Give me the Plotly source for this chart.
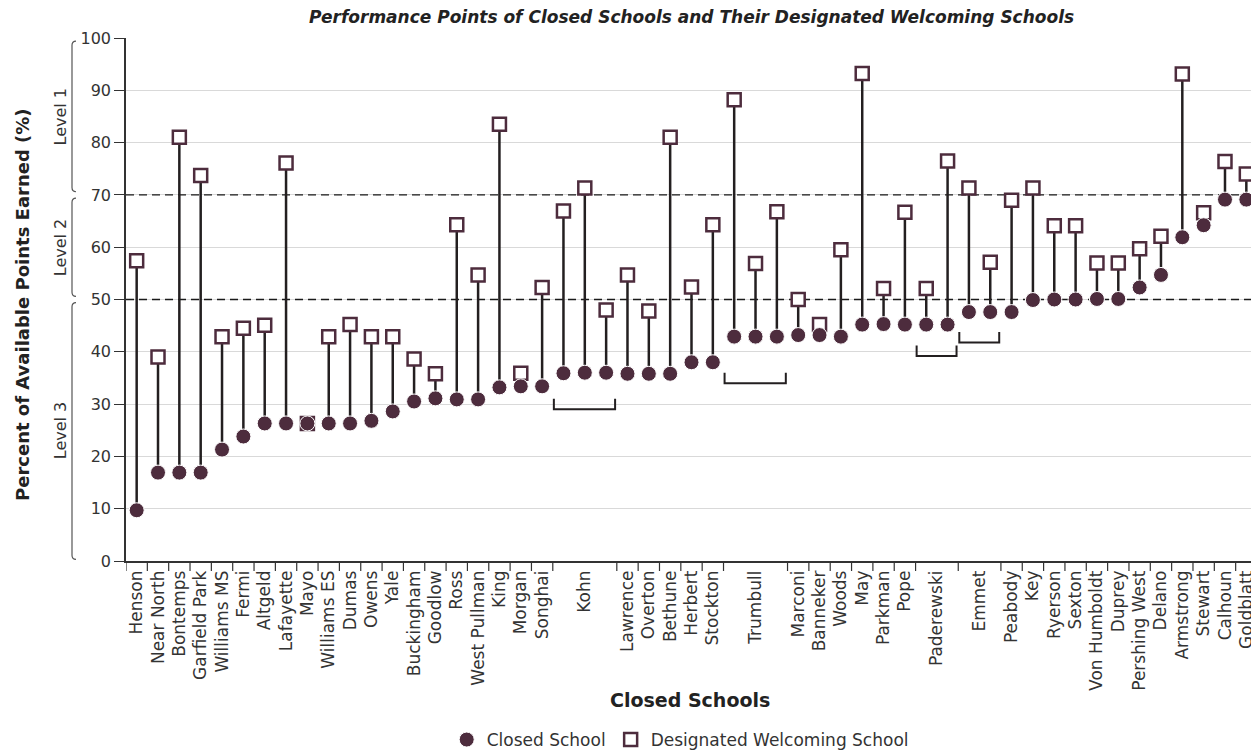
import plotly.graph_objects as go

# ---------------- data ----------------
schools = ["Henson", "Near North", "Bontemps", "Garfield Park", "Williams MS", "Fermi",
           "Altgeld", "Lafayette", "Mayo", "Williams ES", "Dumas", "Owens", "Yale",
           "Buckingham", "Goodlow", "Ross", "West Pullman", "King", "Morgan", "Songhai",
           "Kohn", "Kohn", "Kohn", "Lawrence", "Overton", "Bethune", "Herbert", "Stockton",
           "Trumbull", "Trumbull", "Trumbull", "Marconi", "Banneker", "Woods", "May",
           "Parkman", "Pope", "Paderewski", "Paderewski", "Emmet", "Emmet", "Peabody",
           "Key", "Ryerson", "Sexton", "Von Humboldt", "Duprey", "Pershing West", "Delano",
           "Armstrong", "Stewart", "Calhoun", "Goldblatt"]

closed_pts = [9.7, 16.9, 16.9, 16.9, 21.3, 23.8, 26.3, 26.3, 26.3, 26.3, 26.3, 26.8, 28.6,
              30.5, 31.1, 30.9, 30.9, 33.2, 33.4, 33.4, 35.9, 36.0, 36.0, 35.8, 35.8, 35.8,
              38.0, 38.0, 42.9, 42.9, 42.9, 43.2, 43.2, 42.9, 45.2, 45.3, 45.2, 45.2, 45.2,
              47.6, 47.6, 47.6, 49.9, 50.0, 50.0, 50.1, 50.1, 52.3, 54.7, 61.9, 64.2, 69.1, 69.1]

welcoming_pts = [57.4, 39.0, 81.0, 73.7, 42.9, 44.5, 45.1, 76.1, 26.3, 42.9, 45.2, 42.9, 42.9,
                 38.6, 35.8, 64.3, 54.7, 83.5, 35.9, 52.3, 66.9, 71.3, 48.0, 54.7, 47.8, 81.0,
                 52.4, 64.3, 88.2, 56.9, 66.8, 50.0, 45.2, 59.5, 93.2, 52.1, 66.7, 52.1, 76.5,
                 71.3, 57.1, 69.0, 71.3, 64.1, 64.1, 57.0, 57.0, 59.7, 62.1, 93.1, 66.6, 76.4, 74.0]

level_names = ["Level 1", "Level 2", "Level 3"]
level_bands = [(70, 100), (50, 70), (0, 50)]
level_cutoffs = [70, 50]
y_ticks = list(range(0, 101, 10))

# groups with multiple welcoming schools get a bracket (name, bracket y level)
bracket_groups = ["Kohn", "Trumbull", "Paderewski", "Emmet"]
bracket_levels = [29.0, 34.0, 39.2, 41.8]

# ---------------- styling ----------------
MAROON = "#4D2C3D"
STEM = "#231F20"
TXT = "#333333"
FONT = "DejaVu Sans"

# page body has an 8px margin: compensate so the plot lands where intended
PAGE_OFF = 8
W, H = 1259 - PAGE_OFF, 750 - PAGE_OFF
ML, MR, MT, MB = 126 - PAGE_OFF, 2, 38 - PAGE_OFF, 189
plot_w = W - ML - MR
plot_h = H - MT - MB

n = len(schools)
xs = [i + 0.5 for i in range(n)]

# group boundaries & centres
groups = []  # (name, start, end)
for i, s in enumerate(schools):
    if groups and groups[-1][0] == s:
        groups[-1][2] = i + 1
    else:
        groups.append([s, i, i + 1])
centers = [(g[1] + g[2]) / 2 for g in groups]
names = [g[0] for g in groups]
bounds = sorted(set([g[1] for g in groups] + [g[2] for g in groups]))

fig = go.Figure()

# dashed level cut-offs (as a trace so they sit above the gridlines, below the markers)
cx, cy = [], []
for c in level_cutoffs:
    cx += [0, n, None]
    cy += [c, c, None]
fig.add_trace(go.Scatter(x=cx, y=cy, mode="lines", cliponaxis=False,
                         line=dict(color="#1a1a1a", width=1.3, dash="8px,5px"),
                         hoverinfo="skip", showlegend=False))

# stems
sx, sy = [], []
for x, c, w in zip(xs, closed_pts, welcoming_pts):
    sx += [x, x, None]
    sy += [c, w, None]
fig.add_trace(go.Scatter(x=sx, y=sy, mode="lines", line=dict(color=STEM, width=2.5),
                         hoverinfo="skip", showlegend=False))

fig.add_trace(go.Scatter(x=xs, y=welcoming_pts, mode="markers", name="Designated Welcoming School",
                         marker=dict(symbol="square", size=13, color="white",
                                     line=dict(color=MAROON, width=2.5)),
                         legendrank=2))
fig.add_trace(go.Scatter(x=xs, y=closed_pts, mode="markers", name="Closed School",
                         marker=dict(symbol="circle", size=15, color=MAROON,
                                     line=dict(color="white", width=1)),
                         legendrank=1))

shapes = []
# category boundary ticks
for b in bounds:
    shapes.append(dict(type="line", xref="x", yref="paper", x0=b, x1=b, y0=0, y1=-10 / plot_h,
                       line=dict(color=TXT, width=1.2)))

# brackets under multi-school groups
for gname, lvl in zip(bracket_groups, bracket_levels):
    g = [gg for gg in groups if gg[0] == gname][0]
    x0, x1 = g[1] + 0.05, g[2] - 0.08
    shapes.append(dict(type="path", xref="x", yref="y",
                       path=f"M {x0},{lvl + 2} L {x0},{lvl} L {x1},{lvl} L {x1},{lvl + 2}",
                       line=dict(color=STEM, width=2)))

# level braces
bx = (72 - 126) / plot_w
hk = 4 / plot_w
annotations = []
for name, (lo, hi) in zip(level_names, level_bands):
    top, bot = hi - 0.6, lo + 0.6
    if lo == 0:
        bot = lo + 0.3
    shapes.append(dict(type="path", xref="paper", yref="y",
                       path=(f"M {bx + hk},{top} Q {bx},{top} {bx},{top - 0.8} "
                             f"L {bx},{bot + 0.8} Q {bx},{bot} {bx + hk},{bot}"),
                       line=dict(color="#555", width=1.2)))
    annotations.append(dict(text=name, xref="paper", yref="y", x=(60 - 126) / plot_w,
                            y=(lo + hi) / 2, textangle=-90, showarrow=False,
                            font=dict(family=FONT, size=16, color=TXT),
                            xanchor="center", yanchor="middle"))

annotations.append(dict(text="Percent of Available Points Earned (%)", xref="paper", yref="paper",
                        x=(22 - 126) / plot_w, y=(561 - 305) / plot_h, textangle=-90,
                        showarrow=False,
                        font=dict(family=FONT, size=18, color="#222", weight=600),
                        xanchor="center", yanchor="middle"))
annotations.append(dict(text="Closed Schools", xref="paper", yref="paper",
                        x=(690 - 126) / plot_w, y=(561 - 700) / plot_h, showarrow=False,
                        font=dict(family=FONT, size=19, color="#222", weight=600),
                        xanchor="center", yanchor="middle"))
annotations.append(dict(text="Performance Points of Closed Schools and Their Designated Welcoming Schools",
                        xref="paper", yref="paper", x=0.5, y=1 + (38 - 17) / plot_h,
                        showarrow=False, xanchor="center", yanchor="middle",
                        font=dict(family=FONT, size=17, color="#222", style="italic", weight=600)))

fig.update_layout(
    width=W, height=H, autosize=False,
    margin=dict(l=ML, r=MR, t=MT, b=MB, autoexpand=False),
    plot_bgcolor="white", paper_bgcolor="white",
    font=dict(family=FONT, color=TXT),
    xaxis=dict(range=[0, n], tickvals=centers, ticktext=names, tickangle=-90, ticks="",
               showline=True, linecolor=TXT, linewidth=1.5, showgrid=False, zeroline=False,
               tickfont=dict(family=FONT, size=17, color=TXT), ticklabelstandoff=1,
               automargin=False),
    yaxis=dict(range=[0, 100], tickvals=y_ticks, ticks="outside", ticklen=10, tickcolor=TXT,
               tickwidth=1.2, showline=True, linecolor=TXT, linewidth=1.5,
               gridcolor="#d9d9d9", gridwidth=1, zeroline=False, automargin=False,
               tickfont=dict(family=FONT, size=16, color=TXT)),
    legend=dict(orientation="h", x=0.49, xanchor="center", y=(561 - 740) / plot_h,
                yanchor="middle", font=dict(family=FONT, size=17, color=TXT),
                itemwidth=30, tracegroupgap=0),
    shapes=shapes, annotations=annotations,
)

fig.write_html("out.html")
